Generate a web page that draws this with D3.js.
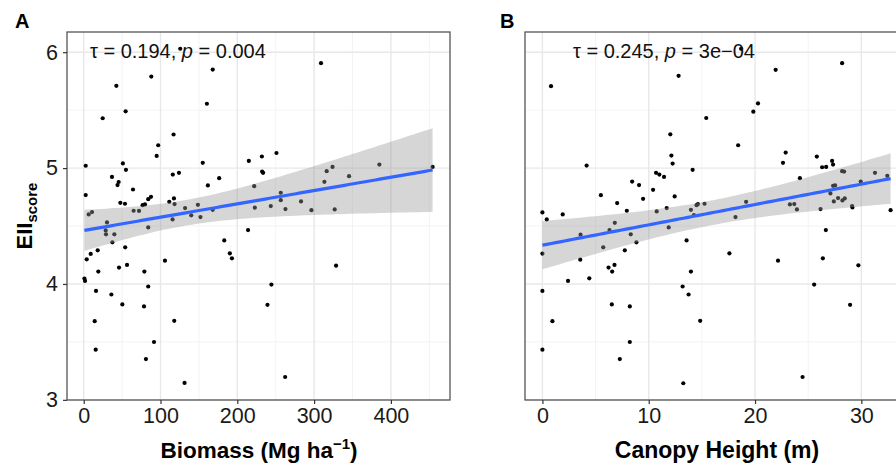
<!DOCTYPE html>
<html>
<head>
<meta charset="utf-8">
<script src="https://cdn.jsdelivr.net/npm/d3@7"></script>
<style>
  body { margin: 0; background: #fff; }
  text { font-family: "Liberation Sans", Arial, Helvetica, sans-serif; }
</style>
</head>
<body>
<svg width="896" height="466"></svg>
<script>
// EII score against biomass and canopy height, one [x, y] pair per site
const biomassPoints = [
  [125.7,6.03],[88,5.79],[42.5,5.71],[168,5.85],[309,5.905],[54.6,5.49],[160.4,5.555],[24.7,5.43],
  [117,5.29],[97,5.197],[95,5.105],[2.6,5.02],[51,5.04],[55,4.985],[36.8,4.924],[45.5,4.88],
  [44,4.853],[116,4.944],[124,4.959],[155,5.045],[176.4,4.913],[161.7,4.85],[215,5.062],[232,5.1],
  [251,5.13],[232.3,4.97],[233.6,4.959],[222,4.844],[324,5.01],[316.4,4.973],[313.4,4.881],[345.5,4.93],
  [385,5.03],[454.3,5.01],[2.6,4.767],[6.5,4.6],[10.8,4.62],[64.2,4.815],[47.7,4.70],[53.7,4.692],
  [65,4.632],[72,4.63],[76.7,4.68],[79.8,4.686],[84,4.732],[87.6,4.752],[111.4,4.709],[117.5,4.738],
  [118.3,4.689],[115.7,4.557],[132,4.655],[140,4.592],[148.7,4.683],[152,4.577],[168,4.64],[30.3,4.531],
  [28.6,4.462],[29,4.428],[39.9,4.428],[37.3,4.359],[84,4.488],[18.2,4.29],[54,4.316],[9.1,4.259],
  [3.9,4.213],[46,4.141],[56.4,4.164],[19,4.107],[79,4.107],[0.9,4.047],[1.7,4.026],[84,3.978],
  [16,3.94],[36,3.909],[50.3,3.823],[78.5,3.806],[14.3,3.679],[117.9,3.682],[15.6,3.433],[91.5,3.499],
  [81,3.352],[131.3,3.146],[105.8,4.201],[183,4.376],[190.3,4.264],[193,4.221],[214,4.465],[222.8,4.658],
  [243.6,4.672],[256.6,4.787],[256.6,4.723],[262.7,4.646],[283,4.712],[296.5,4.637],[326.8,4.643],[328.6,4.158],
  [244.4,3.995],[239.3,3.82],[262.3,3.197]
];

const canopyPoints = [
  [0.81,5.707],[12.81,5.796],[21.94,5.848],[28.19,5.905],[20.28,5.558],[19.84,5.487],[15.41,5.432],[12.03,5.291],
  [18.41,5.197],[12.13,5.108],[12.25,5.039],[4.16,5.022],[22.88,5.134],[22.63,5.045],[25.81,5.099],[26.31,5.007],
  [26.69,5.01],[27.25,5.062],[27.34,5.03],[28.19,4.973],[28.38,4.97],[31.28,4.959],[32.44,4.933],[32.75,4.637],
  [14.13,4.985],[10.69,4.959],[11.0,4.944],[11.44,4.924],[24.22,4.913],[29.94,4.884],[8.44,4.884],[9.09,4.853],
  [10.41,4.812],[5.5,4.766],[9.47,4.735],[12.44,4.755],[7.03,4.698],[7.94,4.632],[10.75,4.626],[11.69,4.655],
  [13.97,4.64],[14.5,4.68],[14.63,4.689],[15.25,4.692],[19.16,4.709],[18.16,4.577],[11.88,4.488],[0,4.617],
  [0.41,4.557],[1.91,4.6],[3.59,4.425],[6.81,4.528],[6.31,4.465],[8.31,4.428],[8.84,4.359],[5.72,4.316],
  [7.75,4.29],[0,4.262],[3.56,4.21],[6.22,4.141],[6.78,4.164],[6.56,4.107],[4.41,4.049],[2.41,4.026],
  [13.56,4.376],[13.97,4.107],[13.19,3.978],[13.75,3.909],[0,3.94],[6.53,3.823],[8.22,3.806],[0.94,3.679],
  [14.84,3.682],[0,3.433],[8.22,3.499],[7.28,3.352],[13.25,3.143],[17.59,4.264],[22.16,4.201],[26.38,4.221],
  [26.66,4.465],[26.16,4.646],[23.28,4.686],[23.69,4.689],[23.94,4.643],[27.09,4.781],[27.34,4.847],[27.53,4.85],
  [27.41,4.712],[27.81,4.741],[28.22,4.721],[28.44,4.738],[29.13,4.672],[29.16,4.66],[29.72,4.161],[25.56,3.995],
  [28.94,3.82],[24.47,3.197],[18.69,6.029],[14.25,4.594]
];

const yTicks = [3, 4, 5, 6];
const biomassTicks = [0, 100, 200, 300, 400];
const canopyTicks = [0, 10, 20, 30];
const panelLetters = ["A", "B"];
const tauLabels = ["0.194", "0.245"];
const pLabels = ["0.004", "3e\u221204"];

const svg = d3.select("svg");
const plotTop = 32, plotBottom = 400, panelW = 383;

// ggplot style 5% padding
function expand(ext) {
  const d = (ext[1] - ext[0]) * 0.05;
  return [ext[0] - d, ext[1] + d];
}

// lm fit with 95% band, like geom_smooth(method = "lm")
function lmBand(pts) {
  const n = pts.length;
  const mx = d3.mean(pts, d => d[0]), my = d3.mean(pts, d => d[1]);
  const sxx = d3.sum(pts, d => (d[0] - mx) ** 2);
  const sxy = d3.sum(pts, d => (d[0] - mx) * (d[1] - my));
  const b = sxy / sxx, a = my - b * mx;
  const s = Math.sqrt(d3.sum(pts, d => (d[1] - a - b * d[0]) ** 2) / (n - 2));
  const t = 1.984;
  const [x0, x1] = d3.extent(pts, d => d[0]);
  return d3.range(80).map(i => {
    const x = x0 + (x1 - x0) * i / 79;
    const fit = a + b * x;
    const se = s * Math.sqrt(1 / n + (x - mx) ** 2 / sxx);
    return { x: x, y: fit, lo: fit - t * se, hi: fit + t * se };
  });
}

const yExt = expand(d3.extent(biomassPoints.concat(canopyPoints), d => d[1]));

const panels = [
  { pts: biomassPoints, ticks: biomassTicks, left: 67, yAxis: true, annotDx: 23 },
  { pts: canopyPoints, ticks: canopyTicks, left: 525, yAxis: false, annotDx: 48 }
];

panels.forEach((p, i) => {
  const x = d3.scaleLinear().domain(expand(d3.extent(p.pts, d => d[0]))).range([p.left, p.left + panelW]);
  const y = d3.scaleLinear().domain(yExt).range([plotBottom, plotTop]);
  const g = svg.append("g");

  const [dx0, dx1] = x.domain();
  const step = p.ticks[1] - p.ticks[0];
  const xMinor = d3.range(p.ticks[0] - step / 2, dx1, step).filter(v => v > dx0);
  const yMinor = d3.range(2.5, 7, 1).filter(v => v > yExt[0] && v < yExt[1]);

  g.selectAll(".mx").data(xMinor).join("line")
    .attr("x1", d => x(d)).attr("x2", d => x(d)).attr("y1", plotTop).attr("y2", plotBottom)
    .attr("stroke", "#f0f0f0").attr("stroke-width", 0.8);
  g.selectAll(".my").data(yMinor).join("line")
    .attr("x1", p.left).attr("x2", p.left + panelW).attr("y1", d => y(d)).attr("y2", d => y(d))
    .attr("stroke", "#f0f0f0").attr("stroke-width", 0.8);
  g.selectAll(".gx").data(p.ticks).join("line")
    .attr("x1", d => x(d)).attr("x2", d => x(d)).attr("y1", plotTop).attr("y2", plotBottom)
    .attr("stroke", "#e8e8e8").attr("stroke-width", 1.4);
  g.selectAll(".gy").data(yTicks).join("line")
    .attr("x1", p.left).attr("x2", p.left + panelW).attr("y1", d => y(d)).attr("y2", d => y(d))
    .attr("stroke", "#e8e8e8").attr("stroke-width", 1.4);

  g.selectAll("circle").data(p.pts).join("circle")
    .attr("cx", d => x(d[0])).attr("cy", d => y(d[1])).attr("r", 2.1)
    .attr("fill", "#000");

  const band = lmBand(p.pts);
  g.append("path").datum(band)
    .attr("d", d3.area().x(d => x(d.x)).y0(d => y(d.lo)).y1(d => y(d.hi)))
    .attr("fill", "#999").attr("fill-opacity", 0.4);
  g.append("path").datum(band)
    .attr("d", d3.line().x(d => x(d.x)).y(d => y(d.y)))
    .attr("fill", "none").attr("stroke", "#3366FF").attr("stroke-width", 3.2);

  g.append("rect").attr("x", p.left).attr("y", plotTop).attr("width", panelW).attr("height", plotBottom - plotTop)
    .attr("fill", "none").attr("stroke", "#555").attr("stroke-width", 1.3);

  // x axis
  const xa = g.append("g").attr("transform", `translate(0,${plotBottom})`)
    .call(d3.axisBottom(x).tickValues(p.ticks).tickFormat(d3.format("d")).tickSize(4).tickPadding(4));
  xa.select(".domain").remove();
  xa.selectAll("line").attr("stroke", "#333").attr("stroke-width", 1.2);
  xa.selectAll("text").attr("font-size", 21.5).attr("fill", "#1a1a1a")
    .attr("font-family", "Liberation Sans, Arial, sans-serif");

  if (p.yAxis) {
    const ya = g.append("g").attr("transform", `translate(${p.left},0)`)
      .call(d3.axisLeft(y).tickValues(yTicks).tickFormat(d3.format("d")).tickSize(4).tickPadding(5));
    ya.select(".domain").remove();
    ya.selectAll("line").attr("stroke", "#333").attr("stroke-width", 1.2);
    ya.selectAll("text").attr("font-size", 21.5).attr("fill", "#1a1a1a")
      .attr("font-family", "Liberation Sans, Arial, sans-serif");
  }

  const ann = g.append("text").attr("x", p.left + p.annotDx).attr("y", 58)
    .attr("font-size", 20).attr("fill", "#111");
  ann.append("tspan").text(`\u03c4 = ${tauLabels[i]}, `);
  ann.append("tspan").attr("font-style", "italic").text("p");
  ann.append("tspan").text(` = ${pLabels[i]}`);

  svg.append("text").attr("x", i === 0 ? 15 : 500).attr("y", 28)
    .attr("font-size", 20).attr("font-weight", "bold").text(panelLetters[i]);
});

// axis titles
const t1 = svg.append("text").attr("x", 259).attr("y", 458).attr("text-anchor", "middle")
  .attr("font-size", 22.5).attr("font-weight", "bold");
t1.append("tspan").text("Biomass (Mg ha");
t1.append("tspan").attr("font-size", 15).attr("dy", -9).text("\u22121");
t1.append("tspan").attr("dy", 9).text(")");

svg.append("text").attr("x", 717).attr("y", 458).attr("text-anchor", "middle")
  .attr("font-size", 23).attr("font-weight", "bold").text("Canopy Height (m)");

const yt = svg.append("text").attr("transform", "translate(32,216) rotate(-90)")
  .attr("text-anchor", "middle").attr("font-size", 22).attr("font-weight", "bold");
yt.append("tspan").text("EII");
yt.append("tspan").attr("font-size", 15).attr("dy", 5).text("score");
</script>
</body>
</html>
